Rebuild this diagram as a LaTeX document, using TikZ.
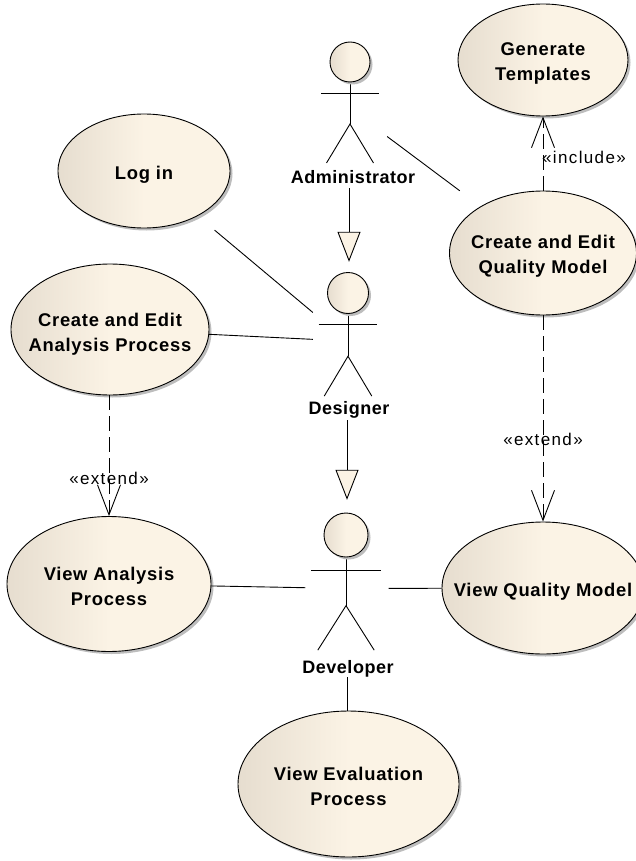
\documentclass[tikz,border=0pt]{standalone}
\usepackage{fontspec}
\setmainfont{Liberation Sans}
\newfontfamily\casefont[LetterSpace=4]{Liberation Sans}
\newfontfamily\umlfont[LetterSpace=3]{Liberation Sans}
\newfontfamily\stereofont[LetterSpace=8]{Liberation Sans}
\usepackage{tikz}
\usetikzlibrary{arrows.meta,shapes,shadows}
\definecolor{ucleft}{HTML}{E6DDCF}
\definecolor{ucright}{HTML}{FBF3E5}
\definecolor{ucshadow}{HTML}{BDBDBD}
\newcommand{\lw}{0.9pt}
\newcommand{\tipl}{30pt}
\newcommand{\tipw}{23pt}
\tikzset{
	usecase/.style = {ellipse, draw=black, line width=\lw, inner sep=-20pt, left color=ucleft, right color=ucright, middle color=ucright,
		general shadow={fill=ucshadow, shadow xshift=2.5pt, shadow yshift=-2.5pt}, align=center,
		font=\casefont\fontsize{18.4}{25}\selectfont\bfseries, text height=44pt},
	actorbox/.style = {rectangle, inner sep=0pt},
	actorname/.style = {inner sep=0pt, font=\umlfont\fontsize{18}{20}\selectfont\bfseries},
	stereo/.style = {inner sep=0pt, font=\stereofont\fontsize{17}{20}\selectfont},
	assoc/.style = {draw=black, line width=\lw},
	general/.style = {assoc, -{Triangle[length=\tipl,width=\tipw,fill=ucright]}},
	depend/.style = {assoc, dash pattern=on 15pt off 6pt, -{Straight Barb[length=\tipl,width=\tipw]}},
}
% x y xsize ysize headradius
\newcommand{\stickman}[5]{
	\begin{scope}[shift={(#1,#2)}]
	\draw[assoc] (0,#5) -- (0,62*#4);
	\draw[assoc] (-29*#3,31*#4) -- (29*#3,31*#4);
	\draw[assoc] (-23.5*#3,101*#4) -- (0,62*#4) -- (23.5*#3,101*#4);
	\fill[ucshadow] (2.5,2.5) circle (#5pt);
	\draw[line width=\lw, left color=ucleft, right color=ucright, middle color=ucright] (0,0) circle (#5pt);
	\end{scope}
}

\begin{document}
\begin{tikzpicture}[x=1pt,y=-1pt]
	\useasboundingbox (0,0) rectangle (636,861);
	
	\node[usecase, minimum width=170pt, minimum height=112pt] (templates) at (543,60) {Generate\\Templates};
	\node[usecase, minimum width=187pt, minimum height=124pt] (qmodel) at (543,253) {Create and Edit\\Quality Model};
	\node[usecase, text height=20pt, minimum width=172pt, minimum height=114pt] (login) at (144,171) {Log in};
	\node[usecase, text height=48pt, minimum width=198pt, minimum height=131pt] (aprocess) at (110,329.5) {Create and Edit\\Analysis Process};
	\node[usecase, minimum width=204pt, minimum height=135pt] (vanalysis) at (109,584) {View Analysis\\Process};
	\node[usecase, text height=20pt, minimum width=202pt, minimum height=132pt] (vquality) at (543,588) {View Quality Model};
	\node[usecase, minimum width=221pt, minimum height=146pt] (vevaluation) at (348.5,784) {View Evaluation\\Process};
	
	\stickman{350}{62}{1}{1}{20}
	\stickman{348}{293}{1.01}{1.02}{20.5}
	\stickman{346}{535}{1.2}{1.14}{22}
	
	%boxes round the actors, the lines stop at these
	\node[actorbox, minimum width=76pt, minimum height=160pt] (admin) at (349,108) {};
	\node[actorbox, minimum width=68pt, minimum height=158pt] (designer) at (347,341) {};
	\node[actorbox, minimum width=83pt, minimum height=177pt] (developer) at (347,588.5) {};
	
	\node[actorname] (adminlabel) at (353,177) {Administrator};
	\node[actorname] (designerlabel) at (349,410) {Designer};
	\node[actorname] (developerlabel) at (348,669) {Developer};
	
	\draw[general] (admin.south) -- (admin.south |- designer.north);
	\draw[general] (designer.south) -- (developer.north);
	\draw[assoc] (developer.south) -- (developer.south |- vevaluation.north);
	
	\draw[assoc, shorten >=26pt] (admin) -- (qmodel);
	\draw[assoc, shorten <=22pt] (login) -- (designer);
	\draw[assoc] (aprocess) -- (designer);
	\draw[assoc] (vanalysis) -- (developer);
	\draw[assoc] (vquality) -- (developer);
	
	\draw[depend] (qmodel.north) -- (templates.south);
	\draw[depend] (qmodel.south) -- (vquality.north);
	\draw[depend] (aprocess.south -| vanalysis.north) -- (vanalysis.north);
	
	\node[stereo] (includelabel) at (584,157) {«include»};
	\node[stereo] (extendq) at (543,439) {«extend»};
	\node[stereo] (extenda) at (109,478) {«extend»};
\end{tikzpicture}
\end{document}
